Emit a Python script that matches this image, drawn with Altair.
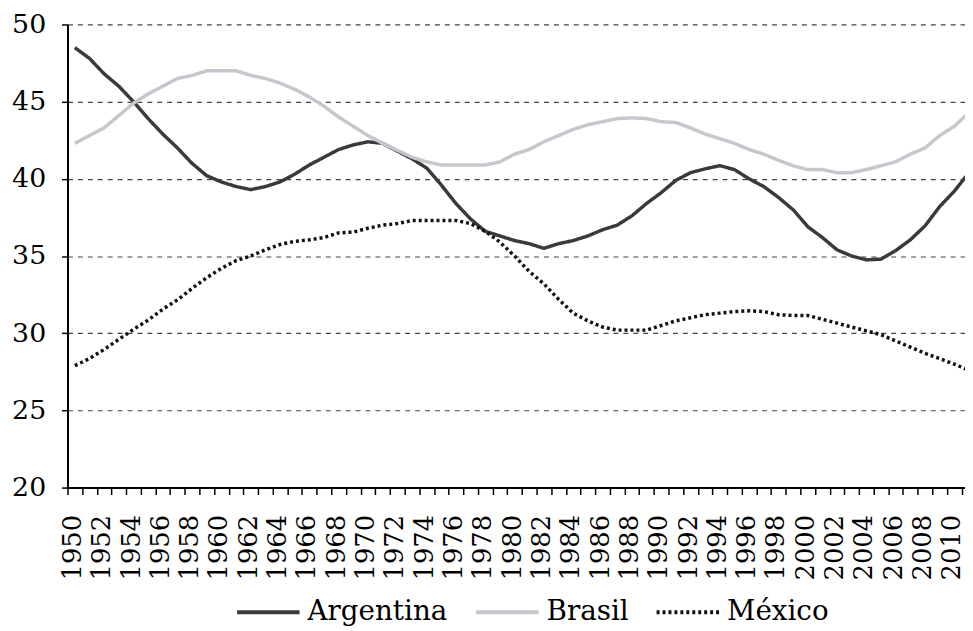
import altair as alt
import pandas as pd

years = list(range(1950, 2012))

argentina = [48.5, 47.8, 46.8, 46.0, 45.0, 43.9, 42.9, 42.0, 41.0, 40.2,
             39.8, 39.5, 39.3, 39.5, 39.8, 40.3, 40.9, 41.4, 41.9, 42.2,
             42.4, 42.3, 41.8, 41.3, 40.7, 39.6, 38.4, 37.4, 36.6, 36.3,
             36.0, 35.8, 35.5, 35.8, 36.0, 36.3, 36.7, 37.0, 37.6, 38.4,
             39.1, 39.9, 40.4, 40.65, 40.85, 40.6, 40.0, 39.5, 38.8, 38.0,
             36.9, 36.2, 35.4, 35.0, 34.75, 34.8, 35.35, 36.05, 36.95, 38.2,
             39.2, 40.4]

brasil = [42.3, 42.8, 43.3, 44.1, 44.9, 45.5, 46.0, 46.5, 46.7, 47.0,
          47.0, 47.0, 46.7, 46.5, 46.2, 45.8, 45.3, 44.7, 44.0, 43.4,
          42.8, 42.3, 41.85, 41.4, 41.1, 40.9, 40.9, 40.9, 40.9, 41.1,
          41.6, 41.9, 42.4, 42.8, 43.2, 43.5, 43.7, 43.9, 43.95, 43.9,
          43.7, 43.65, 43.3, 42.9, 42.6, 42.3, 41.9, 41.6, 41.2, 40.85,
          40.6, 40.6, 40.4, 40.4, 40.6, 40.85, 41.1, 41.6, 42.0, 42.8,
          43.4, 44.3]

mexico = [27.9, 28.36, 28.95, 29.6, 30.25, 30.85, 31.55, 32.16, 32.9, 33.6,
          34.2, 34.7, 35.0, 35.4, 35.75, 35.95, 36.05, 36.2, 36.5, 36.55,
          36.8, 37.0, 37.1, 37.3, 37.3, 37.3, 37.3, 37.1, 36.6, 35.9,
          35.0, 34.0, 33.2, 32.2, 31.3, 30.8, 30.4, 30.2, 30.2, 30.2,
          30.5, 30.8, 31.0, 31.2, 31.3, 31.4, 31.45, 31.4, 31.2, 31.15,
          31.15, 30.9, 30.65, 30.4, 30.15, 29.9, 29.5, 29.1, 28.7, 28.35,
          28.0, 27.6]

series_names = ["Argentina", "Brasil", "México"]
series_colors = ["#3a3a3a", "#c6c6cd", "#111111"]
series_dash = [[1, 0], [1, 0], [3, 3]]

y_ticks = [20, 25, 30, 35, 40, 45, 50]
x_tick_positions = [y - 0.5 for y in years]  # category boundaries

rows = []
for name, vals in zip(series_names, [argentina, brasil, mexico]):
    for yr, v in zip(years, vals):
        rows.append({"year": yr, "value": v, "pais": name})
df = pd.DataFrame(rows)

FONT = "DejaVu Serif"

x = alt.X(
    "year:Q",
    scale=alt.Scale(domain=[1949.5, 2010.73], nice=False, zero=False),
    axis=alt.Axis(
        title=None,
        values=x_tick_positions,
        labelExpr="(datum.value % 2 == 1.5) ? format(datum.value + 0.5, 'd') : ''",
        labelOffset=5,
        labelAngle=270,
        labelAlign="right",
        labelBaseline="middle",
        labelPadding=20,
        labelFontSize=26,
        labelFont=FONT,
        labelColor="#000000",
        labelOverlap=False,
        labelFlush=False,
        labelBound=False,
        tickSize=7,
        tickColor="#000000",
        tickWidth=1.5,
        domainColor="#000000",
        domainWidth=2,
        grid=False,
    ),
)

y = alt.Y(
    "value:Q",
    scale=alt.Scale(domain=[20, 50], nice=False, zero=False),
    axis=alt.Axis(
        title=None,
        values=y_ticks,
        labelFontSize=27,
        labelFont=FONT,
        labelColor="#000000",
        labelPadding=16,
        tickSize=6,
        tickColor="#000000",
        tickWidth=1.5,
        domainColor="#000000",
        domainWidth=2,
        grid=True,
        gridColor="#444444",
        gridDash=[5, 5],
        gridWidth=1.2,
    ),
)

chart = (
    alt.Chart(df)
    .mark_line(clip=True, strokeWidth=3.5)
    .encode(
        x=x,
        y=y,
        color=alt.Color(
            "pais:N",
            scale=alt.Scale(domain=series_names, range=series_colors),
            legend=alt.Legend(
                title=None,
                orient="none",
                legendX=169,
                legendY=559,
                direction="horizontal",
                symbolType="stroke",
                symbolSize=3969,
                symbolStrokeWidth=4,
                labelFont=FONT,
                labelFontSize=28,
                labelColor="#000000",
                labelOffset=6,
                columnPadding=20,
            ),
        ),
        strokeDash=alt.StrokeDash(
            "pais:N",
            scale=alt.Scale(domain=series_names, range=series_dash),
            legend=None,
        ),
    )
    .properties(
        width=905,
        height=467,
        autosize=alt.AutoSizeParams(type="none"),
        padding={"left": 60, "top": 14, "right": 0, "bottom": 140},
    )
    .configure_view(stroke=None)
)

chart.save("out.html", embed_options={"renderer": "svg", "actions": False})
